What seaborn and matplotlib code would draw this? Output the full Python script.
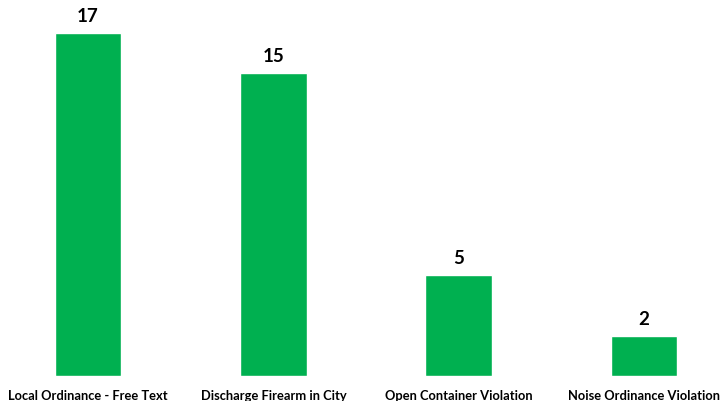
import matplotlib
matplotlib.use("Agg")
import matplotlib.pyplot as plt
import seaborn as sns
import pandas as pd

categories = ["Local Ordinance - Free Text", "Discharge Firearm in City",
              "Open Container Violation", "Noise Ordinance Violation"]
values = [17, 15, 5, 2]

sns.set_theme(style="white")
plt.rcParams['font.family'] = ['Lato', 'DejaVu Sans']

df = pd.DataFrame({"cat": categories, "val": values})
fig = plt.figure(figsize=(7.21, 4.01), dpi=100)
ax = fig.add_axes([0, 25/401, 1, 376/401])
sns.barplot(data=df, x="cat", y="val", color="#00B050", saturation=1,
            width=0.36, ax=ax)
ax.set_xlim(-0.475, 3.415)
ax.set_ylim(0, 376/20.2)
for i, v in enumerate(values):
    ax.text(i, v + 0.4, str(v), ha="center", va="bottom",
            fontsize=13.5, fontweight="bold", color="#000000")
ax.set_xlabel("")
ax.set_ylabel("")
ax.set_yticks([])
ax.tick_params(axis="x", length=0, pad=10, labelsize=9.3)
for lab in ax.get_xticklabels():
    lab.set_fontweight("bold")
    lab.set_color("#000000")
sns.despine(ax=ax, left=True, bottom=True, top=True, right=True)
fig.savefig("out.png", dpi=100)
